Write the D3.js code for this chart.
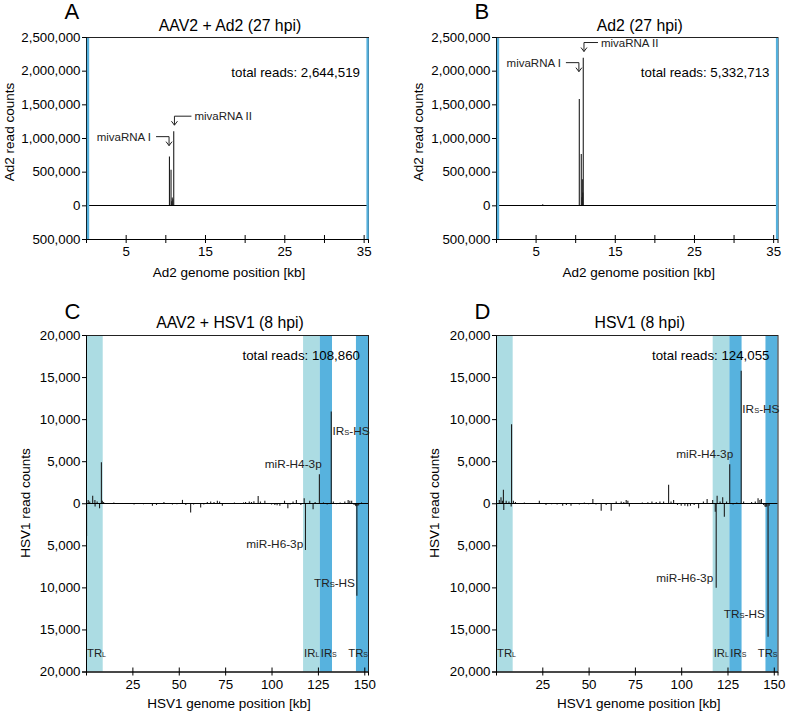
<!DOCTYPE html>
<html><head><meta charset="utf-8">
<script src="https://cdn.jsdelivr.net/npm/d3@7"></script>
<style>body{margin:0;background:#fff} svg{display:block;font-family:"Liberation Sans",Arial,sans-serif}</style>
</head><body><svg id="c" width="786" height="716"></svg>
<script>
// ---------- data ----------
const ad2XTicks = [5, 10, 15, 20, 25, 30, 35];
const ad2XLabels = ["5", "", "15", "", "25", "", "35"];
const ad2YTicks = [-500000, 0, 500000, 1000000, 1500000, 2000000, 2500000];
const ad2ItrStart = [0, 35.25];
const ad2ItrEnd = [0.3, 35.55];

const hsvXTicks = [25, 50, 75, 100, 125, 150];
const hsvYTicks = [-20000, -15000, -10000, -5000, 0, 5000, 10000, 15000, 20000];
const hsvRegionName = ["TR", "IR", "IR", "TR"];
const hsvRegionSub = ["L", "L", "S", "S"];
const hsvRegionStart = [0, 117, 126, 145.5];
const hsvRegionEnd = [9, 126, 132.6, 152];

// Panel A: AAV2 + Ad2 (27 hpi)
const aPos = [10.52, 10.72, 10.80, 10.87, 10.95, 11.06];
const aReads = [727000, 527000, 60000, 115000, 90000, 1100000];
// Panel B: Ad2 (27 hpi)
const bPos = [5.9, 10.52, 10.77, 10.85, 10.9, 10.96, 11.02];
const bReads = [15000, 1580000, 761000, 120000, 388000, 190000, 2190000];

// Panel C: AAV2 + HSV1 (8 hpi)
const cPos = [0.3,1.2,2.0,3.6,4.8,4.9,6.0,7.3,8.3,8.8,9.5,15,20,25.9,28,31,35.8,38,42,44,46.6,49,52,53.8,56.4,58,61.8,63.5,65.4,67.2,69,70.8,72,73.5,76,80,84.9,86,88,89.2,90.5,92.8,94,96.4,98,100,101.8,103,104.5,107,108.8,110,111.6,113.4,115.8,117.6,118.3,120.6,122.4,123.5,125.8,128,130,132.2,133.3,135,137,139.5,141.3,142.2,143.2,144.5,145.3,145.7,146.0,146.5,147,148.5];
const cReads = [-3900,400,200,900,400,-400,200,-600,4880,300,150,100,-80,-150,-100,-120,-300,-200,150,-100,-150,-120,400,-200,-1100,-150,-500,-150,150,200,150,300,200,-300,-100,80,100,150,200,150,250,870,200,300,-100,-150,-200,-250,-300,300,-600,-150,200,400,-200,600,-5560,300,-700,150,3450,100,-150,10900,200,-100,100,200,400,300,300,-200,-300,-350,-11000,-300,-250,100];

// Panel D: HSV1 (8 hpi)
const dPos = [0.3,1.8,2.7,3.5,4.0,4.2,5.5,7.0,8.2,8.4,9.4,10.5,15.3,20,23.4,25,27,30,33,36,38,40.5,43,45,47.7,50,52.3,54,56.8,59.5,62.2,64.9,67.6,69,70.3,71.2,72,75,79,82,84.2,86.5,88.5,90.5,93.2,94.5,95.9,98,100,102,103.5,105,107,109.4,112,114,117,118.4,118.9,119.4,121,122.4,123.3,124.5,126.2,128,130,132.4,133.7,136,138,140,141.5,142.5,143.3,144.5,145.2,145.7,146.2,146.9,147.5];
const dReads = [-5360,400,700,300,1600,-800,300,200,-400,9400,300,150,100,-80,300,-100,-200,-120,-150,-300,-200,-300,-100,-150,100,-120,500,-150,-900,-200,-900,200,200,150,400,300,-400,-100,100,120,200,150,200,200,2200,200,400,-200,-300,-300,-350,-300,-200,-600,200,500,400,-1000,-10050,900,200,700,-1600,200,4640,-150,100,15750,200,-100,150,200,600,400,500,-200,-400,-450,-400,-15880,-300];

// annotations (data units)
const aArrows = [
  {text: "mivaRNA I", kb: 10.47, level: 1020000, side: "left", len: 13},
  {text: "mivaRNA II", kb: 11.15, level: 1324000, side: "right", len: 17}];
const bArrows = [
  {text: "mivaRNA I", kb: 10.47, level: 2119000, side: "left", len: 13},
  {text: "mivaRNA II", kb: 11.11, level: 2418000, side: "right", len: 14}];
const cLabels = [
  {pre: "IR", sub: "S", post: "-HS", kb: 132.8, val: 8130, anchor: "start"},
  {pre: "miR-H4-3p", kb: 127.06, val: 4200, anchor: "end"},
  {pre: "miR-H6-3p", kb: 117.1, val: -5320, anchor: "end"},
  {pre: "TR", sub: "S", post: "-HS", kb: 145.0, val: -9960, anchor: "end"}];
const dLabels = [
  {pre: "IR", sub: "S", post: "-HS", kb: 133.0, val: 10727, anchor: "start"},
  {pre: "miR-H4-3p", kb: 128.1, val: 5414, anchor: "end"},
  {pre: "miR-H6-3p", kb: 117.3, val: -9325, anchor: "end"},
  {pre: "TR", sub: "S", post: "-HS", kb: 145.2, val: -13675, anchor: "end"}];

// ---------- drawing ----------
const svg = d3.select("#c");
const fmt = d3.format(",");
const LIGHT = "#acdce3", DARK = "#57b2de", ITR = "#55b0dc";

function drawPanel(p) {
  const g = svg.append("g");
  const x = d3.scaleLinear().domain(p.xDomain).range([p.left, p.right]);
  const y = d3.scaleLinear().domain(p.yDomain).range([p.bottom, p.top]);

  // genome regions
  if (p.regions) {
    const idx = d3.range(hsvRegionName.length);
    g.selectAll("rect.reg").data(idx).join("rect")
      .attr("x", i => x(hsvRegionStart[i]))
      .attr("width", i => x(hsvRegionEnd[i]) - x(hsvRegionStart[i]))
      .attr("y", p.top).attr("height", p.bottom - p.top)
      .attr("fill", i => hsvRegionSub[i] === "S" ? DARK : LIGHT);
  }

  // read count bars
  g.selectAll("line.bar").data(p.pos).join("line")
    .attr("x1", d => x(d)).attr("x2", d => x(d))
    .attr("y1", y(0)).attr("y2", (d, i) => y(p.reads[i]))
    .attr("stroke", "#1e1e1e").attr("stroke-width", 1.1);

  // zero line
  g.append("line").attr("x1", p.left).attr("x2", p.right)
    .attr("y1", Math.round(y(0)) + 0.5).attr("y2", Math.round(y(0)) + 0.5)
    .attr("stroke", "#000").attr("stroke-width", 1);

  // frame
  g.append("rect").attr("x", p.left + 0.5).attr("y", p.top + 0.5)
    .attr("width", p.right - p.left).attr("height", p.bottom - p.top)
    .attr("fill", "none").attr("stroke", "#222").attr("stroke-width", 1);

  // y axis
  const ya = g.append("g").attr("transform", `translate(${p.left},0)`)
    .call(d3.axisLeft(y).tickValues(p.yTicks).tickSize(4).tickPadding(1.5)
      .tickFormat(d => fmt(Math.abs(d))));
  ya.selectAll("text").attr("font-size", 13.3).attr("fill", "#000")
    .attr("font-family", '"Liberation Sans",Arial,sans-serif');
  ya.select(".domain").attr("stroke", "#000");

  // ITR bars of Ad2 (on top of frame)
  if (p.itr) {
    g.selectAll("rect.itr").data(ad2ItrStart).join("rect")
      .attr("x", (d, i) => x(d) + 0.8).attr("width", (d, i) => Math.max(2.2, x(ad2ItrEnd[i]) - x(d)))
      .attr("y", p.top + 1).attr("height", p.bottom - p.top - 1).attr("fill", ITR);
  }

  // x axis (ticks crossing the axis line)
  const xa = g.append("g").attr("transform", `translate(0,${p.bottom})`)
    .call(d3.axisBottom(x).tickValues(p.xTicks).tickSize(4).tickPadding(4)
      .tickFormat((d, i) => p.xLabels ? p.xLabels[i] : String(d)));
  xa.selectAll(".tick line").attr("y1", -4).attr("y2", 4).attr("stroke", "#000");
  xa.selectAll("text").attr("font-size", 13.3).attr("fill", "#000")
    .attr("font-family", '"Liberation Sans",Arial,sans-serif');
  xa.select(".domain").attr("stroke", "#000");

  // axis titles
  g.append("text").attr("x", (p.left + p.right) / 2 + 2).attr("y", p.xLabelY)
    .attr("text-anchor", "middle").attr("font-size", 13.5).text(p.xLabel);
  g.append("text").attr("transform", `translate(${p.yLabelX},${p.yLabelY}) rotate(-90)`)
    .attr("text-anchor", "middle").attr("dy", "0.35em").attr("font-size", 13.5).text(p.yLabel);

  // panel title and letter
  g.append("text").attr("x", (p.left + p.right) / 2 + 3).attr("y", p.titleY)
    .attr("text-anchor", "middle").attr("font-size", 15.8).text(p.title);
  g.append("text").attr("x", p.left - 21.5).attr("y", p.letterY)
    .attr("font-size", 22).text(p.letter);

  // total reads
  g.append("text").attr("x", p.right - 8).attr("y", p.totalY)
    .attr("text-anchor", "end").attr("font-size", 13.3).text("total reads: " + p.total);

  // arrows (Ad2 panels)
  if (p.arrows) {
    p.arrows.forEach(a => {
      const ax = x(a.kb), ay = y(a.level);
      const hx = a.side === "left" ? ax - a.len : ax + a.len;
      g.append("path").attr("d", `M${hx},${ay}H${ax}V${ay + 9}`)
        .attr("fill", "none").attr("stroke", "#222").attr("stroke-width", 1);
      g.append("path").attr("d", `M${ax - 3},${ay + 5}L${ax},${ay + 9}L${ax + 3},${ay + 5}`)
        .attr("fill", "none").attr("stroke", "#222").attr("stroke-width", 1);
      g.append("text").attr("x", a.side === "left" ? hx - 5 : hx + 3).attr("y", ay)
        .attr("dy", "0.35em").attr("text-anchor", a.side === "left" ? "end" : "start")
        .attr("font-size", 11.5).attr("fill", "#222").text(a.text);
    });
  }

  // miRNA / HS labels (HSV panels)
  if (p.labels) {
    p.labels.forEach(l => {
      const t = g.append("text").attr("x", x(l.kb)).attr("y", y(l.val))
        .attr("text-anchor", l.anchor).attr("font-size", 11.8).attr("fill", "#222");
      t.append("tspan").text(l.pre);
      if (l.sub) {
        t.append("tspan").attr("font-size", 7.5).text(l.sub);
        t.append("tspan").text(l.post);
      }
    });
  }

  // region labels
  if (p.regions) {
    d3.range(hsvRegionName.length).forEach(i => {
      const last = i === hsvRegionName.length - 1;
      const t = g.append("text")
        .attr("x", last ? p.right : x(hsvRegionStart[i]) + 1)
        .attr("y", p.bottom - 14.5)
        .attr("text-anchor", last ? "end" : "start")
        .attr("font-size", 11.3).attr("fill", "#222");
      t.append("tspan").text(hsvRegionName[i]);
      t.append("tspan").attr("font-size", 7).text(hsvRegionSub[i]);
    });
  }
}

const ad2Common = {
  xDomain: [0, 35.55], yDomain: [-500000, 2500000], top: 37, bottom: 239,
  xTicks: ad2XTicks, xLabels: ad2XLabels, yTicks: ad2YTicks, itr: true,
  xLabel: "Ad2 genome position [kb]", yLabel: "Ad2 read counts",
  xLabelY: 276.5, yLabelY: 132, titleY: 31, letterY: 18.5, totalY: 76.5
};
const hsvCommon = {
  xDomain: [0, 152], yDomain: [-20000, 20000], top: 335, bottom: 671.5,
  xTicks: hsvXTicks, yTicks: hsvYTicks, regions: true,
  xLabel: "HSV1 genome position [kb]", yLabel: "HSV1 read counts",
  xLabelY: 708, yLabelY: 503, titleY: 328, letterY: 318.5, totalY: 360
};

drawPanel(Object.assign({}, ad2Common, {left: 86, right: 368, pos: aPos, reads: aReads,
  title: "AAV2 + Ad2 (27 hpi)", letter: "A", total: "2,644,519", arrows: aArrows, yLabelX: 9.5}));
drawPanel(Object.assign({}, ad2Common, {left: 496, right: 777.5, pos: bPos, reads: bReads,
  title: "Ad2 (27 hpi)", letter: "B", total: "5,332,713", arrows: bArrows, yLabelX: 418}));
drawPanel(Object.assign({}, hsvCommon, {left: 86, right: 368, pos: cPos, reads: cReads,
  title: "AAV2 + HSV1 (8 hpi)", letter: "C", total: "108,860", labels: cLabels, yLabelX: 25}));
drawPanel(Object.assign({}, hsvCommon, {left: 496, right: 777.5, pos: dPos, reads: dReads,
  title: "HSV1 (8 hpi)", letter: "D", total: "124,055", labels: dLabels, yLabelX: 434}));
</script></body></html>
